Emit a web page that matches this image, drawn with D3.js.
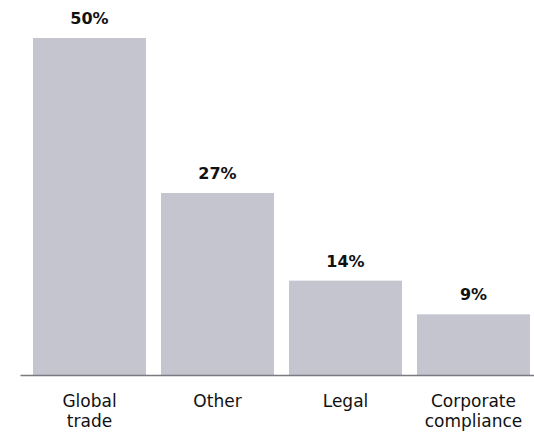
<!DOCTYPE html>
<html>
<head>
<meta charset="utf-8">
<script src="https://cdn.jsdelivr.net/npm/d3@7"></script>
<style>
  html, body { margin: 0; padding: 0; background: #ffffff; }
  svg { display: block; }
</style>
</head>
<body>
<div id="chart"></div>
<script>
// Share of responses by area
const categories = ["Global trade", "Other", "Legal", "Corporate compliance"];
const labelLines = [["Global", "trade"], ["Other"], ["Legal"], ["Corporate", "compliance"]];
const values = [50, 27, 14, 9];

const width = 534, height = 433;
const baseline = 375;

const svg = d3.select("#chart").append("svg")
  .attr("width", width)
  .attr("height", height);

const x = d3.scaleBand()
  .domain(categories)
  .range([25.5, 537.5])
  .paddingInner(15 / 128)
  .paddingOuter(15 / 256);

const y = d3.scaleLinear()
  .domain([0, 50])
  .range([baseline, 38]);

const font = "'DejaVu Sans', sans-serif";

// bars
svg.selectAll("rect.bar")
  .data(values)
  .enter().append("rect")
  .attr("class", "bar")
  .attr("x", (d, i) => x(categories[i]))
  .attr("y", d => y(d))
  .attr("width", x.bandwidth())
  .attr("height", d => baseline - y(d))
  .attr("fill", "#c5c5d0");

// baseline axis
const axis = svg.append("g")
  .attr("transform", `translate(0,${baseline})`)
  .call(d3.axisBottom(x).tickSize(0).tickFormat(""));
axis.select(".domain")
  .attr("d", "M20.5,0.5H534")
  .attr("stroke", "#7a7a80")
  .attr("stroke-width", 1.3);

// value labels
svg.selectAll("text.value")
  .data(values)
  .enter().append("text")
  .attr("class", "value")
  .attr("x", (d, i) => x(categories[i]) + x.bandwidth() / 2)
  .attr("y", d => y(d) - 14)
  .attr("text-anchor", "middle")
  .attr("font-family", font)
  .attr("font-weight", "bold")
  .attr("font-size", 16)
  .attr("fill", "#111")
  .text(d => d + "%");

// category labels
const cat = svg.selectAll("text.cat")
  .data(categories)
  .enter().append("text")
  .attr("class", "cat")
  .attr("x", d => x(d) + x.bandwidth() / 2)
  .attr("y", 407)
  .attr("text-anchor", "middle")
  .attr("font-family", font)
  .attr("font-size", 17)
  .attr("fill", "#111");
cat.selectAll("tspan")
  .data((d, i) => labelLines[i])
  .enter().append("tspan")
  .attr("x", function () { return d3.select(this.parentNode).attr("x"); })
  .attr("dy", (d, j) => j === 0 ? 0 : 20)
  .text(d => d);
</script>
</body>
</html>
